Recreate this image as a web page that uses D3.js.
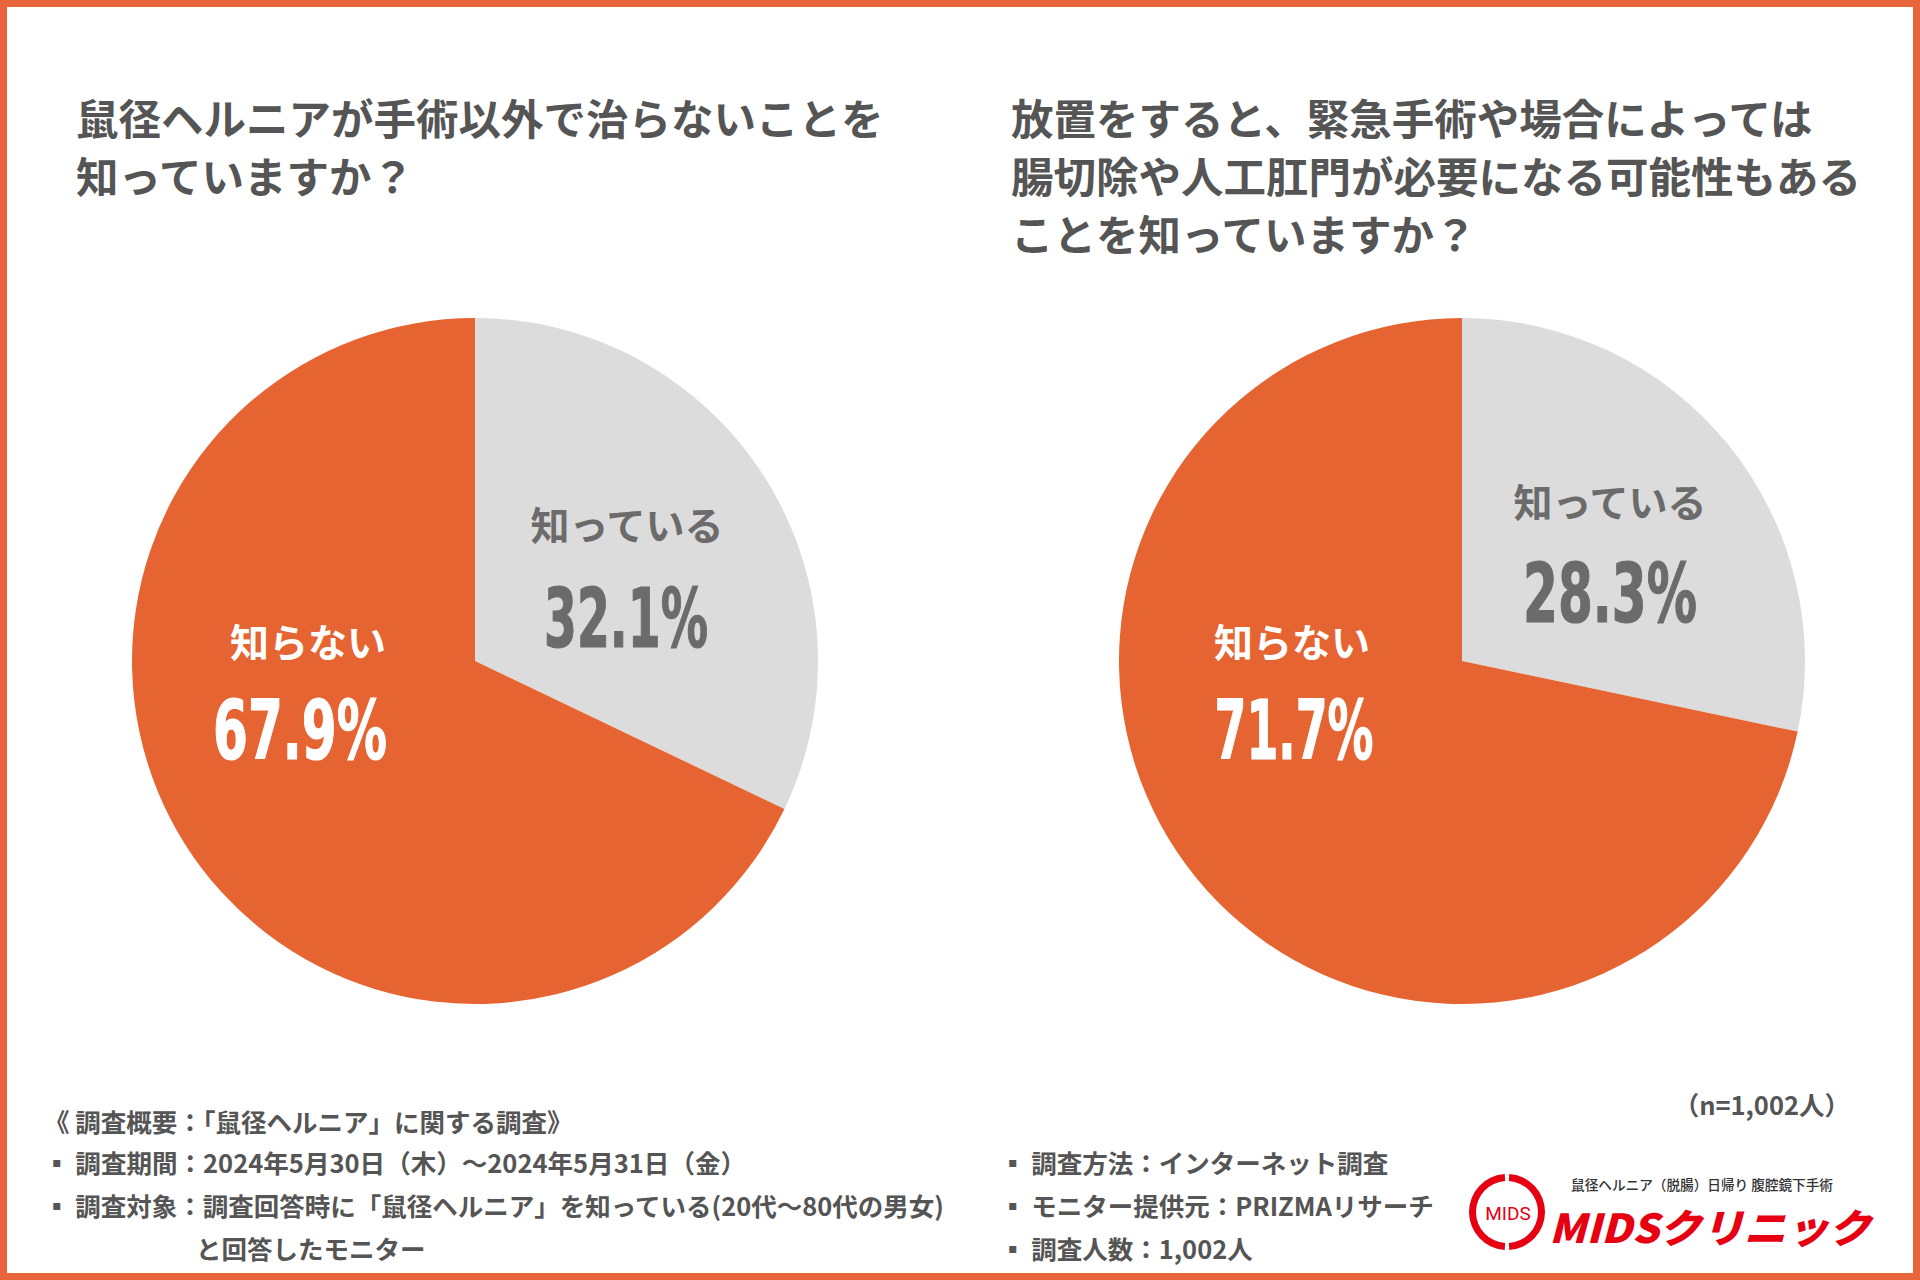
<!DOCTYPE html>
<html><head><meta charset="utf-8">
<script src="https://cdn.jsdelivr.net/npm/d3@7"></script>
<style>
html,body{margin:0;padding:0;background:#fff;}
svg{display:block;}
</style></head>
<body>
<svg id="c" width="1920" height="1280"></svg>
<script>
// ---- data ----
const categories = ["知っている", "知らない"];
const chart1Values = [32.1, 67.9];
const chart2Values = [28.3, 71.7];
const chart1Title = ["鼠径ヘルニアが手術以外で治らないことを", "知っていますか？"];
const chart2Title = ["放置をすると、緊急手術や場合によっては", "腸切除や人工肛門が必要になる可能性もある", "ことを知っていますか？"];
const footerLeft = ["《 調査概要：「鼠径ヘルニア」に関する調査》", "▪ 調査期間：2024年5月30日（木）～2024年5月31日（金）", "▪ 調査対象：調査回答時に「鼠径ヘルニア」を知っている(20代～80代の男女)"];
const footerLeftCont = "と回答したモニター";
const footerRight = ["▪ 調査方法：インターネット調査", "▪ モニター提供元：PRIZMAリサーチ", "▪ 調査人数：1,002人"];
const sampleNote = "（n=1,002人）";
const logoSub = "鼠径ヘルニア（脱腸）日帰り 腹腔鏡下手術";
const logoMain = "MIDSクリニック";

// ---- styles ----
const ORANGE = "#E66431";
const GRAY = "#DCDCDC";
const TEXT = "#555555";
const LABEL = "#6B6B6B";
const JP = "'Noto Sans CJK JP','Noto Sans',sans-serif";
const NUM = "'Liberation Sans Narrow','DejaVu Sans Condensed','Roboto',sans-serif";

const svg = d3.select("#c");
svg.append("rect").attr("x", 3.5).attr("y", 3.5).attr("width", 1913).attr("height", 1273)
  .attr("fill", "#fff").attr("stroke", "#E8643A").attr("stroke-width", 7);

const color = d3.scaleOrdinal().domain(categories).range([GRAY, ORANGE]);
const labelColor = d3.scaleOrdinal().domain(categories).range([LABEL, "#ffffff"]);

function drawPie(cfg) {
  const g = svg.append("g").attr("transform", `translate(${cfg.cx},${cfg.cy})`);
  const data = categories.map((c, i) => ({cat: c, value: cfg.values[i]}));
  const pie = d3.pie().value(d => d.value).sort(null);
  const arc = d3.arc().innerRadius(0).outerRadius(cfg.r);
  const arcs = pie(data);
  g.selectAll("path").data(arcs).join("path")
    .attr("d", arc).attr("fill", d => color(d.data.cat));
  arcs.forEach((a, i) => {
    const o = cfg.labelOffsets[i];
    g.append("text").attr("x", o.lx).attr("y", o.ly)
      .attr("text-anchor", "middle").attr("dominant-baseline", "central")
      .attr("font-family", JP).attr("font-weight", 700).attr("font-size", 39)
      .attr("fill", labelColor(a.data.cat)).text(a.data.cat);
    g.append("text").attr("x", o.nx).attr("y", o.ny)
      .attr("text-anchor", "middle")
      .attr("font-family", NUM).attr("font-weight", 700).attr("font-size", 82)
      .attr("stroke", labelColor(a.data.cat)).attr("stroke-width", 1.2)
      .attr("textLength", o.nw).attr("lengthAdjust", "spacingAndGlyphs")
      .attr("fill", labelColor(a.data.cat)).text(d3.format(".1f")(a.data.value) + "%");
  });
  cfg.title.forEach((t, i) => {
    svg.append("text").attr("x", cfg.tx).attr("y", cfg.ty + i * 58)
      .attr("dominant-baseline", "central")
      .attr("font-family", JP).attr("font-weight", 700).attr("font-size", 42.5)
      .attr("fill", TEXT).text(t);
  });
}

drawPie({cx: 475, cy: 661, r: 343, values: chart1Values, title: chart1Title, tx: 76, ty: 116,
  labelOffsets: [
    {lx: 152, ly: -138, nx: 151, ny: -14, nw: 164},
    {lx: -167, ly: -21, nx: -175, ny: 98, nw: 174}
  ]});
drawPie({cx: 1462, cy: 661, r: 343, values: chart2Values, title: chart2Title, tx: 1011, ty: 116,
  labelOffsets: [
    {lx: 148, ly: -161, nx: 148, ny: -39, nw: 174},
    {lx: -170, ly: -21, nx: -168, ny: 98, nw: 159}
  ]});

// ---- footer ----
const foot = svg.append("g").attr("font-family", JP).attr("font-weight", 700)
  .attr("font-size", 25.5).attr("fill", TEXT);
const rowY = [1120, 1161, 1204, 1247];
footerLeft.forEach((t, i) => {
  const el = foot.append("text").attr("x", 44).attr("y", rowY[i]).attr("dominant-baseline", "central").text(t);
  if (i === 1) el.attr("textLength", 702).attr("lengthAdjust", "spacingAndGlyphs");
});
foot.append("text").attr("x", 196).attr("y", rowY[3]).attr("dominant-baseline", "central").text(footerLeftCont);
footerRight.forEach((t, i) => {
  foot.append("text").attr("x", 1000).attr("y", rowY[i + 1]).attr("dominant-baseline", "central").text(t);
});
foot.append("text").attr("x", 1850).attr("y", 1103).attr("text-anchor", "end")
  .attr("dominant-baseline", "central").text(sampleNote);

// ---- logo ----
const RED = "#E60012";
const logo = svg.append("g").attr("transform", "translate(1507,1212)");
const ring = d3.arc().innerRadius(31).outerRadius(38);
[[0.06, Math.PI - 0.06], [Math.PI + 0.06, 2 * Math.PI - 0.06]].forEach(([s, e]) => {
  logo.append("path").attr("d", ring({startAngle: s, endAngle: e})).attr("fill", RED);
});
logo.append("text").attr("x", 1).attr("y", 1).attr("text-anchor", "middle").attr("dominant-baseline", "central")
  .attr("font-family", "'Roboto',sans-serif").attr("font-size", 19).attr("fill", RED).text("MIDS");
svg.append("text").attr("x", 1571).attr("y", 1184).attr("dominant-baseline", "central")
  .attr("font-family", JP).attr("font-weight", 500).attr("font-size", 14)
  .attr("textLength", 262).attr("lengthAdjust", "spacingAndGlyphs")
  .attr("fill", "#333").text(logoSub);
svg.append("text").attr("x", 1549).attr("y", 1226).attr("dominant-baseline", "central")
  .attr("font-family", JP).attr("font-weight", 900).attr("font-style", "italic").attr("font-size", 40)
  .attr("textLength", 322).attr("lengthAdjust", "spacingAndGlyphs")
  .attr("fill", RED).text(logoMain);
</script>
</body></html>
